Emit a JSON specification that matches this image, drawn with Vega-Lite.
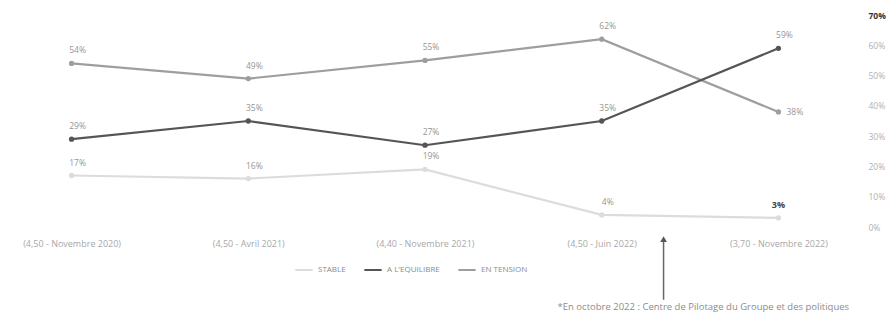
{
  "$schema": "https://vega.github.io/schema/vega-lite/v6.json",
  "autosize": {"type": "none"},
  "width": 850,
  "height": 212,
  "padding": {"top": 15, "left": 0, "right": 43, "bottom": 105},
  "background": "white",
  "config": {
    "view": {"stroke": null},
    "font": "Open Sans",
    "axis": {"labelFont": "Open Sans", "labelColor": "#a0a0a0", "labelFontSize": 8.5},
    "axisY": {"orient": "right", "title": null, "domain": false, "ticks": false, "grid": false,
              "values": [0, 10, 20, 30, 40, 50, 60, 70], "labelPadding": 18, "labelOverlap": false,
              "labelExpr": "datum.value + '%'",
              "labelColor": {"expr": "datum.value == 70 ? '#333333' : '#b0b0b0'"},
              "labelFontWeight": {"expr": "datum.value == 70 ? 'bold' : 'normal'"}}
  },
  "datasets": {
    "main": [
      {"periode": "(4,50 - Novembre 2020)", "serie": "EN TENSION", "valeur": 54},
      {"periode": "(4,50 - Avril 2021)", "serie": "EN TENSION", "valeur": 49},
      {"periode": "(4,40 - Novembre 2021)", "serie": "EN TENSION", "valeur": 55},
      {"periode": "(4,50 - Juin 2022)", "serie": "EN TENSION", "valeur": 62},
      {"periode": "(3,70 - Novembre 2022)", "serie": "EN TENSION", "valeur": 38},
      {"periode": "(4,50 - Novembre 2020)", "serie": "A L'EQUILIBRE", "valeur": 29},
      {"periode": "(4,50 - Avril 2021)", "serie": "A L'EQUILIBRE", "valeur": 35},
      {"periode": "(4,40 - Novembre 2021)", "serie": "A L'EQUILIBRE", "valeur": 27},
      {"periode": "(4,50 - Juin 2022)", "serie": "A L'EQUILIBRE", "valeur": 35},
      {"periode": "(3,70 - Novembre 2022)", "serie": "A L'EQUILIBRE", "valeur": 59},
      {"periode": "(4,50 - Novembre 2020)", "serie": "STABLE", "valeur": 17},
      {"periode": "(4,50 - Avril 2021)", "serie": "STABLE", "valeur": 16},
      {"periode": "(4,40 - Novembre 2021)", "serie": "STABLE", "valeur": 19},
      {"periode": "(4,50 - Juin 2022)", "serie": "STABLE", "valeur": 4},
      {"periode": "(3,70 - Novembre 2022)", "serie": "STABLE", "valeur": 3}
    ],
    "note": [
      {"pos": 3.35, "haut": -4, "bas": -24, "texte": "*En octobre 2022 : Centre de Pilotage du Groupe et des politiques"}
    ]
  },
  "layer": [
    {
      "data": {"name": "main"},
      "transform": [{"calculate": "datum.valeur + '%'", "as": "etiquette"}],
      "encoding": {
        "x": {"field": "periode", "type": "ordinal", "sort": null,
              "scale": {"type": "point", "padding": 0.405},
              "axis": {"title": null, "domain": false, "ticks": false, "labelAngle": 0, "labelPadding": 12, "labelColor": "#a8a8a8", "labelFontSize": 9}},
        "y": {"field": "valeur", "type": "quantitative", "title": null,
              "scale": {"domain": [0, 70]}},
        "color": {"field": "serie", "type": "nominal",
                  "scale": {"domain": ["STABLE", "A L'EQUILIBRE", "EN TENSION"], "range": ["#dcdcdc", "#555555", "#9e9e9e"]},
                  "legend": {"title": null, "orient": "none", "direction": "horizontal", "legendX": 294, "legendY": 245,
                             "symbolType": "stroke", "symbolStrokeWidth": 2, "symbolSize": 300,
                             "labelFontSize": 8, "labelColor": "#8a8a8a", "columnPadding": 14}}
      },
      "layer": [
        {"mark": {"type": "line", "strokeWidth": 2.2}},
        {"mark": {"type": "point", "filled": true, "size": 28, "opacity": 1}},
        {
          "transform": [{"filter": "!(datum.serie == 'EN TENSION' && datum.periode == '(3,70 - Novembre 2022)') && !(datum.serie == 'STABLE' && datum.periode == '(3,70 - Novembre 2022)')"}],
          "mark": {"type": "text", "dy": -13, "dx": 6, "fontSize": 8.5},
          "encoding": {"text": {"field": "etiquette", "type": "nominal"}, "color": {"value": "#959595"}}
        },
        {
          "transform": [{"filter": "datum.serie == 'STABLE' && datum.periode == '(3,70 - Novembre 2022)'"}],
          "mark": {"type": "text", "dy": -13, "dx": 0, "fontSize": 9, "fontWeight": "bold"},
          "encoding": {"text": {"field": "etiquette", "type": "nominal"}, "color": {"value": "#444444"}}
        },
        {
          "transform": [{"filter": "datum.serie == 'EN TENSION' && datum.periode == '(3,70 - Novembre 2022)'"}],
          "mark": {"type": "text", "align": "left", "dx": 8, "fontSize": 8.5},
          "encoding": {"text": {"field": "etiquette", "type": "nominal"}, "color": {"value": "#959595"}}
        }
      ]
    },
    {
      "data": {"name": "note"},
      "encoding": {
        "x": {"field": "pos", "type": "quantitative", "scale": {"domain": [-0.405, 4.405], "nice": false, "zero": false}, "axis": null}
      },
      "layer": [
        {"mark": {"type": "rule", "color": "#666666", "strokeWidth": 1.5},
         "encoding": {"y": {"field": "haut", "type": "quantitative", "title": null}, "y2": {"field": "bas"}}},
        {"mark": {"type": "point", "shape": "triangle-up", "filled": true, "size": 45, "color": "#555555", "opacity": 1},
         "encoding": {"y": {"field": "haut", "type": "quantitative", "title": null}}},
        {"mark": {"type": "text", "align": "left", "baseline": "middle", "fontSize": 9.5, "color": "#8c8c8c", "dx": -106, "dy": 7},
         "encoding": {"y": {"field": "bas", "type": "quantitative", "title": null}, "text": {"field": "texte"}}}
      ]
    }
  ],
  "resolve": {"scale": {"x": "independent"}}
}
